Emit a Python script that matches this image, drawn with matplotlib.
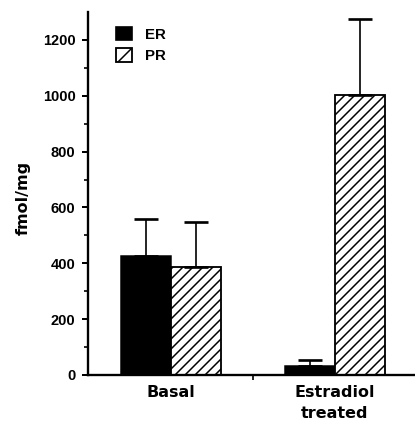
import numpy as np
import matplotlib
matplotlib.use("Agg")
import matplotlib.pyplot as plt
from matplotlib.patches import Patch

groups = ["Basal", "Estradiol\ntreated"]
er_mean = [427, 33]
er_err = [132, 21]
pr_mean = [388, 1004]
pr_err = [160, 271]

DPI = 120
plt.rcParams['font.family'] = ['Liberation Sans', 'DejaVu Sans']
plt.rcParams['font.weight'] = 'bold'
plt.rcParams['hatch.linewidth'] = 0.9

fig = plt.figure(figsize=(415 / DPI, 423 / DPI), dpi=DPI)
ax = fig.add_axes([88 / 415, 48 / 423, 327 / 415, 363 / 423])

x = np.arange(len(groups))
w = 0.305
ax.bar(x - w / 2, er_mean, w, color="black", edgecolor="black", linewidth=0.9,
       yerr=[np.zeros(2), er_err], capsize=7,
       error_kw=dict(elinewidth=1.0, capthick=1.6, ecolor="black"))
ax.bar(x + w / 2, pr_mean, w, color="white", edgecolor="black", linewidth=1.1,
       hatch="////", yerr=[np.zeros(2), pr_err], capsize=7,
       error_kw=dict(elinewidth=1.0, capthick=1.6, ecolor="black"))

ax.set_xlim(-0.506, 1.488)
ax.set_ylim(0, 1300)
ax.set_yticks(np.arange(0, 1201, 200))
ax.set_yticks(np.arange(100, 1300, 200), minor=True)
ax.set_xticks(x)
ax.set_xticklabels(groups, fontsize=9.6, fontweight='bold', family='DejaVu Sans')
for t in ax.get_xticklabels():
    t.set_linespacing(1.5)
ax.set_xticks([0.5], minor=True)
ax.tick_params(axis='x', which='major', length=0, pad=6)
ax.tick_params(axis='x', which='minor', length=3, width=1)
ax.tick_params(axis='y', which='major', length=3.5, width=1.2, labelsize=8.8, pad=4)
ax.tick_params(axis='y', which='minor', length=2.5, width=1)
for lab in ax.get_yticklabels():
    lab.set_fontweight('bold')

for s in ["top", "right"]:
    ax.spines[s].set_visible(False)
for s in ["left", "bottom"]:
    ax.spines[s].set_linewidth(1.4)

ax.set_ylabel("fmol/mg", fontsize=9.6, fontweight='bold', family='DejaVu Sans')
ax.yaxis.set_label_coords(-0.175, 0.488)

handles = [Patch(facecolor="black", edgecolor="black", label="ER"),
           Patch(facecolor="white", edgecolor="black", hatch="//", linewidth=1.1, label="PR")]
ax.legend(handles=handles, loc="upper left", bbox_to_anchor=(0.0856, 0.96),
          frameon=False, borderpad=0, borderaxespad=0, handlelength=1.05,
          handleheight=1.05, handletextpad=0.9, labelspacing=0.4,
          prop=dict(size=9, weight='bold'))

fig.savefig("out.png", dpi=DPI)
